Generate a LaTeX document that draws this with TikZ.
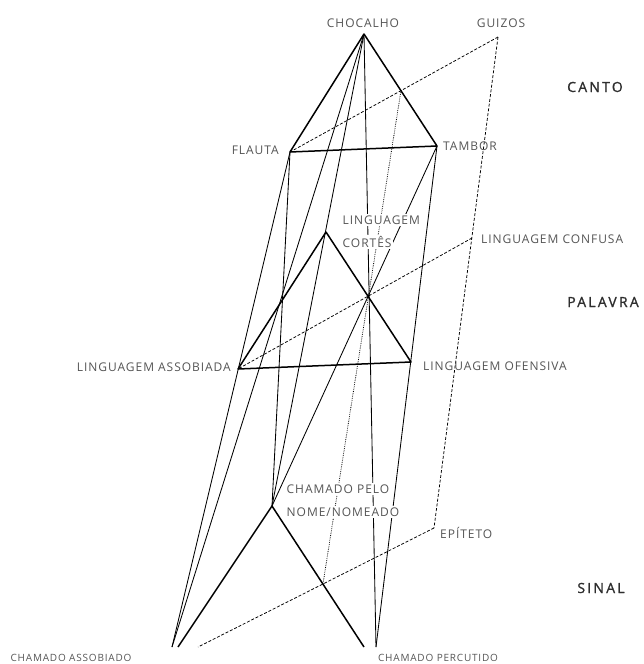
\documentclass[tikz,border=0pt]{standalone}
\usepackage{fontspec}
\setmainfont{Open Sans}
\newfontfamily\labfont[LetterSpace=8]{Open Sans}
\newfontfamily\layerfont[LetterSpace=16, FakeBold=1.2]{Open Sans}
\definecolor{labgray}{HTML}{555555}
\definecolor{laydark}{HTML}{2E2E2E}
\begin{document}
\begin{tikzpicture}[x=1pt,y=-1pt,
  thickedge/.style={line width=1.5pt, line join=round},
  thinline/.style={line width=0.85pt},
  dashline/.style={line width=0.75pt, dash pattern=on 3pt off 1.8pt},
  dotline/.style={line width=0.8pt, dash pattern=on 0.7pt off 1.1pt},
  lab/.style={font=\labfont\fontsize{12}{13}\selectfont, text=labgray, inner sep=1pt},
  smalllab/.style={font=\labfont\fontsize{10}{11}\selectfont, text=labgray, inner sep=1pt},
  masklab/.style={lab, fill=white, inner sep=1.5pt},
  layer/.style={font=\layerfont\fontsize{14}{15}\selectfont, text=laydark, inner sep=0pt}
]
\useasboundingbox (0,0) rectangle (643,664);
% points
\coordinate (C1) at (364,34);
\coordinate (G1) at (498,37);
\coordinate (F1) at (290,152);
\coordinate (T1) at (437,146);
\coordinate (C2) at (326,232);
\coordinate (A2) at (238,369);
\coordinate (O2) at (411,362);
\coordinate (G2) at (472,238);
\coordinate (C3) at (272,506);
\coordinate (BL) at (178,647);
\coordinate (BR) at (364,647);
\coordinate (A3) at (172,647);
\coordinate (P3) at (376,647);
\coordinate (G3) at (434,528);
\coordinate (E3) at (198,647);
\coordinate (X1) at (intersection of G1--F1 and C1--T1);
\coordinate (X3) at (intersection of G3--E3 and C3--BR);
% thin connectors between layers
\draw[thinline] (F1) -- (A3);
\draw[thinline] (C1) -- (C3);
\draw[thinline] (T1) -- (P3);
\draw[thinline] (C1) -- (A3);
\draw[thinline] (C1) -- (P3);
\draw[thinline] (F1) -- (C3);
\draw[thinline] (T1) -- (C3);
% dotted axis
\draw[dotline] (X1) -- (X3);
% dashed lines
\draw[dashline] (G1) -- (F1);
\draw[dashline] (G1) -- (G3);
\draw[dashline] (G2) -- (A2);
\draw[dashline] (G3) -- (E3);
% thick triangles
\draw[thickedge] (C1) -- (F1) -- (T1) -- cycle;
\draw[thickedge] (C2) -- (A2) -- (O2) -- cycle;
\draw[thickedge] (BL) -- (C3) -- (BR);
% labels
\node[lab] (lchoc) at (363,23) {CHOCALHO};
\node[lab] (lguiz) at (501,23) {GUIZOS};
\node[lab, anchor=east] (lflau) at (280,150) {FLAUTA};
\node[lab, anchor=west] (ltamb) at (442,146) {TAMBOR};
\node[masklab, anchor=west] (lcor1) at (341,220) {LINGUAGEM};
\node[masklab, anchor=west] (lcor2) at (341,242) {CORTÊS};
\node[lab, anchor=west] (lconf) at (480,239) {LINGUAGEM CONFUSA};
\node[lab, anchor=east] (lasso) at (232,367) {LINGUAGEM ASSOBIADA};
\node[lab, anchor=west] (lofen) at (422,366) {LINGUAGEM OFENSIVA};
\node[masklab, anchor=west] (lnom1) at (285,489) {CHAMADO PELO};
\node[masklab, anchor=west] (lnom2) at (285,512) {NOME/NOMEADO};
\node[lab, anchor=west] (lepit) at (439,533) {EPÍTETO};
\node[smalllab] (lcass) at (71,658) {CHAMADO ASSOBIADO};
\node[smalllab] (lcper) at (438,658) {CHAMADO PERCUTIDO};
\node[layer] (lcanto) at (595,87) {CANTO};
\node[layer] (lpal) at (603,302) {PALAVRA};
\node[layer] (lsin) at (601,588) {SINAL};
\end{tikzpicture}
\end{document}
